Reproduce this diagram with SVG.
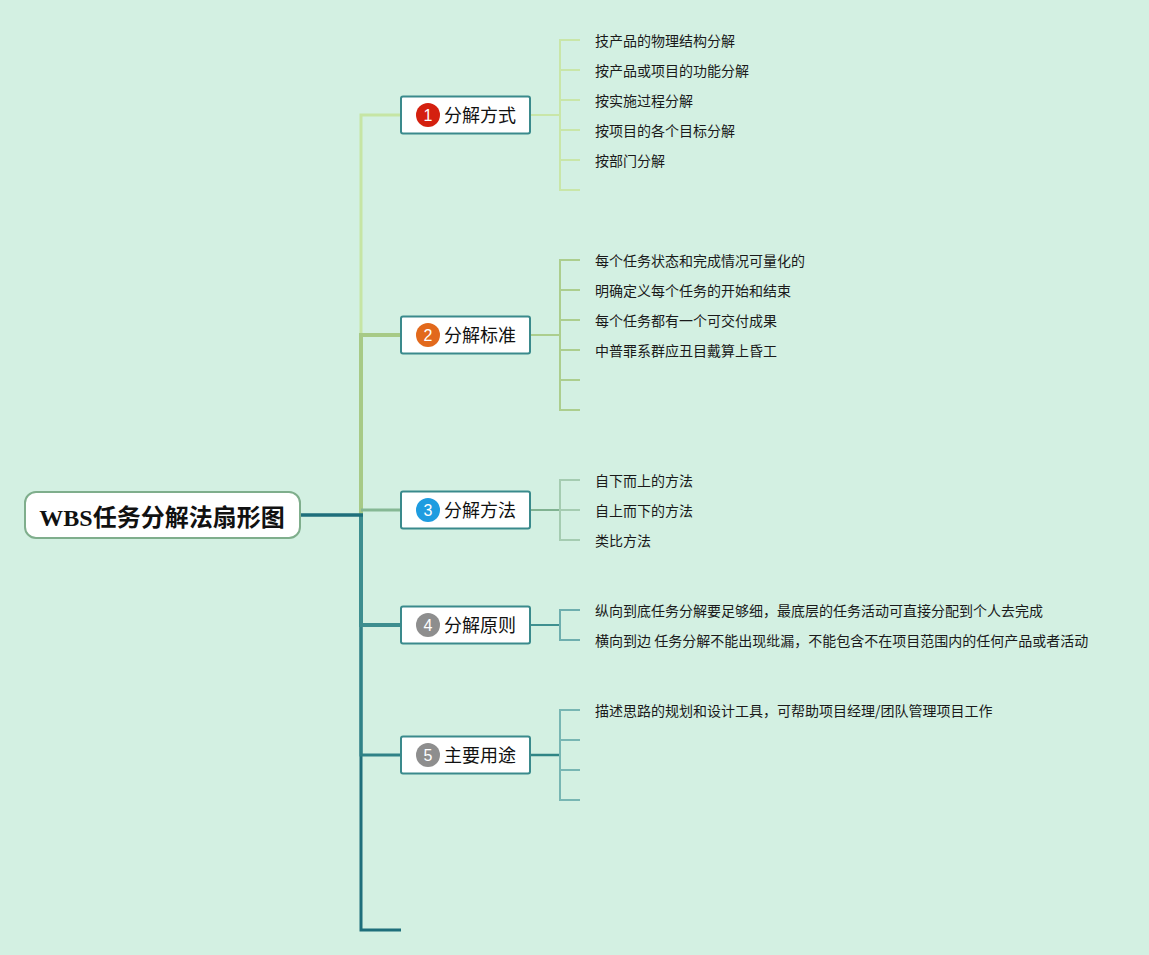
<svg xmlns="http://www.w3.org/2000/svg" width="1149" height="955" viewBox="0 0 1149 955">
<style>
.node rect{fill:#ffffff;stroke:#3a8a8c;stroke-width:2}
.ntext{font-family:"Noto Sans CJK SC","Liberation Sans",sans-serif;font-size:18px;fill:#111}
.badge{font-family:"Liberation Sans","Noto Sans CJK SC",sans-serif;font-size:16px;fill:#fff;text-anchor:middle}
.leaf{font-family:"Noto Sans CJK SC","Liberation Sans",sans-serif;font-size:14px;fill:#1a1a1a}
.c{fill:none;stroke-linejoin:miter}
</style>
<rect width="1149" height="955" fill="#d3f0e2"/>
<g id="connectors">
  <path class="c" d="M361,515 V930 H401" stroke="#1e6f7b" stroke-width="3"/>
  <path class="c" d="M361,515 V755 H401" stroke="#2f8287" stroke-width="3"/>
  <path class="c" d="M361,515 V625 H401" stroke="#3d8e8f" stroke-width="4"/>
  <path class="c" d="M361,515 V115 H401" stroke="#c6e5a4" stroke-width="3"/>
  <path class="c" d="M361,515 V335 H401" stroke="#a7ca86" stroke-width="4"/>
  <path class="c" d="M361,510 H401" stroke="#86b894" stroke-width="3"/>
  <path class="c" d="M300,515 H363" stroke="#1e6f7b" stroke-width="3.5"/>
  <g stroke="#c9e6a8" stroke-width="2" fill="none">
    <path d="M530,115 H560"/>
    <path d="M580,40 H560 V190 H580 M560,70 H580 M560,100 H580 M560,130 H580 M560,160 H580"/>
  </g>
  <g stroke="#acce8e" stroke-width="2" fill="none">
    <path d="M530,335 H560"/>
    <path d="M580,260 H560 V410 H580 M560,290 H580 M560,320 H580 M560,350 H580 M560,380 H580"/>
  </g>
  <g fill="none">
    <path d="M530,510 H560" stroke="#80b291" stroke-width="2"/>
    <path d="M580,480 H560 V540 H580 M560,510 H580" stroke="#a5ccb1" stroke-width="2"/>
  </g>
  <g fill="none">
    <path d="M530,625 H560" stroke="#3f9090" stroke-width="2"/>
    <path d="M580,610 H560 V640 H580" stroke="#6eaeae" stroke-width="2"/>
  </g>
  <g fill="none">
    <path d="M530,755 H560" stroke="#2f8585" stroke-width="2.5"/>
    <path d="M580,710 H560 V800 H580 M560,740 H580 M560,770 H580" stroke="#78b6b3" stroke-width="2"/>
  </g>
</g>
<g id="root">
  <rect x="25" y="492" width="275" height="46" rx="11" fill="#ffffff" stroke="#7fae8c" stroke-width="2"/>
  <text x="162" y="526" text-anchor="middle" font-weight="bold" font-size="24" fill="#111"><tspan font-family="Liberation Serif,serif">WBS</tspan><tspan font-family="Noto Sans CJK SC,sans-serif">任务分解法扇形图</tspan></text>
</g>
<g id="n1" class="node">
  <rect x="401" y="96.5" width="129" height="37" rx="2"/>
  <circle cx="428" cy="115" r="12" fill="#d4200f"/>
  <text class="badge" x="428" y="120.5">1</text>
  <text class="ntext" x="444" y="121.5">分解方式</text>
</g>
<g id="n2" class="node">
  <rect x="401" y="316.5" width="129" height="37" rx="2"/>
  <circle cx="428" cy="335" r="12" fill="#e2691c"/>
  <text class="badge" x="428" y="340.5">2</text>
  <text class="ntext" x="444" y="341.5">分解标准</text>
</g>
<g id="n3" class="node">
  <rect x="401" y="491.5" width="129" height="37" rx="2"/>
  <circle cx="428" cy="510" r="12" fill="#1e9ce0"/>
  <text class="badge" x="428" y="515.5">3</text>
  <text class="ntext" x="444" y="516.5">分解方法</text>
</g>
<g id="n4" class="node">
  <rect x="401" y="606.5" width="129" height="37" rx="2"/>
  <circle cx="428" cy="625" r="12" fill="#8e8e8e"/>
  <text class="badge" x="428" y="630.5">4</text>
  <text class="ntext" x="444" y="631.5">分解原则</text>
</g>
<g id="n5" class="node">
  <rect x="401" y="736.5" width="129" height="37" rx="2"/>
  <circle cx="428" cy="755" r="12" fill="#8e8e8e"/>
  <text class="badge" x="428" y="760.5">5</text>
  <text class="ntext" x="444" y="761.5">主要用途</text>
</g>
<g id="leaves1">
  <text class="leaf" x="595" y="46">技产品的物理结构分解</text>
  <text class="leaf" x="595" y="76">按产品或项目的功能分解</text>
  <text class="leaf" x="595" y="106">按实施过程分解</text>
  <text class="leaf" x="595" y="136">按项目的各个目标分解</text>
  <text class="leaf" x="595" y="166">按部门分解</text>
</g>
<g id="leaves2">
  <text class="leaf" x="595" y="266">每个任务状态和完成情况可量化的</text>
  <text class="leaf" x="595" y="296">明确定义每个任务的开始和结束</text>
  <text class="leaf" x="595" y="326">每个任务都有一个可交付成果</text>
  <text class="leaf" x="595" y="356">中普罪系群应丑目戴算上昏工</text>
</g>
<g id="leaves3">
  <text class="leaf" x="595" y="486">自下而上的方法</text>
  <text class="leaf" x="595" y="516">自上而下的方法</text>
  <text class="leaf" x="595" y="546">类比方法</text>
</g>
<g id="leaves4">
  <text class="leaf" x="595" y="616">纵向到底任务分解要足够细，最底层的任务活动可直接分配到个人去完成</text>
  <text class="leaf" x="595" y="646">横向到边 任务分解不能出现纰漏，不能包含不在项目范围内的任何产品或者活动</text>
</g>
<g id="leaves5">
  <text class="leaf" x="595" y="716">描述思路的规划和设计工具，可帮助项目经理/团队管理项目工作</text>
</g>
</svg>
